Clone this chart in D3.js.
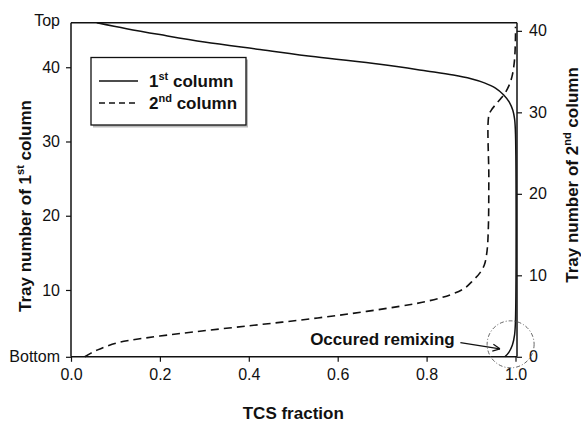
<!DOCTYPE html>
<html><head><meta charset="utf-8">
<script src="https://cdn.jsdelivr.net/npm/d3@7"></script>
<style>body{margin:0;background:#fff}svg{display:block}text{font-family:"Liberation Sans",Arial,sans-serif;fill:#111}</style>
</head><body><svg id="c" width="581" height="423"></svg>
<script>
// ---- data ----
const xTicks = [0, 0.2, 0.4, 0.6, 0.8, 1.0];
const leftTicks = [1, 10, 20, 30, 40, 46];
const leftTickLabels = ["Bottom", "10", "20", "30", "40", "Top"];
const rightTicks = [0, 10, 20, 30, 40];
const seriesNames = ["1st column", "2nd column"];
// 1st column (left axis: tray 1 = Bottom .. 46 = Top)
const col1X    = [0.058,0.125,0.2,0.3,0.425,0.55,0.695,0.8,0.86,0.9,0.93,0.955,0.973,0.986,0.994,0.998,1.0,1.0,0.998,0.993,0.985,0.976];
const col1Tray = [46,45.2,44.4,43.4,42.4,41.4,40.4,39.5,38.95,38.45,37.9,37.2,36.3,35.3,34.2,33,31,6,4.0,2.6,1.6,1];
// 2nd column (right axis: tray 0 .. 41)
const col2X    = [0.031,0.045,0.06,0.08,0.103,0.13,0.16,0.2,0.28,0.4,0.515,0.63,0.74,0.8,0.853,0.885,0.905,0.92,0.93,0.936,0.939,0.94,0.94,0.946,0.956,0.967,0.978,0.987,0.993,0.997,0.999,1.0,1.0];
const col2Tray = [0,0.45,0.85,1.3,1.7,2.0,2.25,2.55,3.08,3.8,4.5,5.3,6.2,6.8,7.6,8.4,9.4,10.3,11.3,13,16,22,29.6,30.3,31.0,31.7,32.5,33.5,34.6,36,37.5,39.5,40.5];
const annoText = "Occured remixing";

// ---- layout ----
const L = 71, R = 515.5, T = 22.7, B = 356.8, boxR = 517;
const x = d3.scaleLinear().domain([0, 1]).range([L, R]);
const yL = d3.scaleLinear().domain([1, 46]).range([B, T]);
const yR = d3.scaleLinear().domain([0, 41]).range([B, T]);
const svg = d3.select("#c");

svg.append("line").attr("x1", L).attr("x2", boxR).attr("y1", T).attr("y2", T).attr("stroke", "#111").attr("stroke-width", 1.5);

const gx = svg.append("g").attr("transform", `translate(0,${B})`)
  .call(d3.axisBottom(x).tickValues(xTicks).tickFormat(d3.format(".1f")).tickSize(5).tickPadding(7));
gx.select(".domain").attr("d", `M${L},0H${boxR}`);
const gl = svg.append("g").attr("transform", `translate(${L},0)`)
  .call(d3.axisLeft(yL).tickValues(leftTicks).tickFormat((d, i) => leftTickLabels[i]).tickSize(5).tickPadding(6));
const gr = svg.append("g").attr("transform", `translate(${boxR},0)`)
  .call(d3.axisRight(yR).tickValues(rightTicks).tickSize(5).tickPadding(7));
gr.select(".domain").attr("d", `M0,${T}V${B}`);
[gx, gl, gr].forEach(g => {
  g.selectAll(".domain").attr("stroke", "#111").attr("stroke-width", 1.5);
  g.selectAll(".tick line").attr("stroke", "#111").attr("stroke-width", 1.2);
  g.selectAll("text").attr("font-size", 16).attr("font-family", '"Liberation Sans",Arial,sans-serif').attr("fill", "#111");
});
gl.select(".domain").attr("d", `M0,${T}V${B}`);
gl.selectAll(".tick").filter(d => d === 46).select("line").remove();
gl.selectAll(".tick").filter(d => d === 46).select("text").attr("dy", "0.2em");

const cr = d3.curveCatmullRom.alpha(0.5);
const line1 = d3.line().x((d, i) => x(col1X[i])).y((d, i) => yL(col1Tray[i])).curve(cr);
svg.append("path").attr("d", line1(col1X)).attr("fill", "none").attr("stroke", "#111").attr("stroke-width", 1.5);
const line2 = d3.line().x((d, i) => x(col2X[i])).y((d, i) => yR(col2Tray[i])).curve(cr);
svg.append("path").attr("d", line2(col2X)).attr("fill", "none").attr("stroke", "#111").attr("stroke-width", 1.6).attr("stroke-dasharray", "8,5");

svg.append("text").attr("x", x(0.5)).attr("y", 419).attr("text-anchor", "middle")
  .attr("font-size", 17).attr("font-weight", "bold").text("TCS fraction");
const lt = svg.append("text").attr("transform", "translate(31,206) rotate(-90)").attr("text-anchor", "middle")
  .attr("font-size", 17).attr("font-weight", "bold");
lt.append("tspan").text("Tray number of 1");
lt.append("tspan").attr("font-size", 11).attr("dy", -7).text("st");
lt.append("tspan").attr("dy", 7).text(" column");
const rt = svg.append("text").attr("transform", "translate(578,175) rotate(-90)").attr("text-anchor", "middle")
  .attr("font-size", 17).attr("font-weight", "bold");
rt.append("tspan").text("Tray number of 2");
rt.append("tspan").attr("font-size", 11).attr("dy", -7).text("nd");
rt.append("tspan").attr("dy", 7).text(" column");

svg.append("rect").attr("x", 93).attr("y", 59.5).attr("width", 155).attr("height", 68).attr("fill", "#bbb");
svg.append("rect").attr("x", 91).attr("y", 57.5).attr("width", 155).attr("height", 67.5).attr("fill", "#fff").attr("stroke", "#111").attr("stroke-width", 1.3);
seriesNames.forEach((name, i) => {
  const yy = 81 + i * 22;
  svg.append("line").attr("x1", 99).attr("x2", 138).attr("y1", yy).attr("y2", yy).attr("stroke", "#111")
    .attr("stroke-width", 1.4).attr("stroke-dasharray", i ? "6,4" : null);
  const t = svg.append("text").attr("x", 149).attr("y", yy + 5.5).attr("font-size", 17).attr("font-weight", "bold");
  t.append("tspan").text(name.slice(0, 1));
  t.append("tspan").attr("font-size", 11).attr("dy", -7).text(name.slice(1, 3));
  t.append("tspan").attr("dy", 7).text(name.slice(3));
});

svg.append("text").attr("x", x(0.538)).attr("y", yR(1.45)).attr("font-size", 17).attr("font-weight", "bold").text(annoText);
const ax1 = x(0.876), ay1 = yR(1.75), ax2 = x(0.965), ay2 = yR(0.98);
svg.append("line").attr("x1", ax1).attr("y1", ay1).attr("x2", ax2).attr("y2", ay2).attr("stroke", "#111").attr("stroke-width", 1.2);
const ang = Math.atan2(ay2 - ay1, ax2 - ax1);
[0.45, -0.45].forEach(a => {
  svg.append("line").attr("x1", ax2).attr("y1", ay2)
    .attr("x2", ax2 - 8 * Math.cos(ang + a)).attr("y2", ay2 - 8 * Math.sin(ang + a))
    .attr("stroke", "#111").attr("stroke-width", 1.2);
});
svg.append("circle").attr("cx", x(0.989)).attr("cy", yR(1.53)).attr("r", 23.5)
  .attr("fill", "none").attr("stroke", "#555").attr("stroke-width", 0.9).attr("stroke-dasharray", "4,2,1,2");
</script></body></html>
